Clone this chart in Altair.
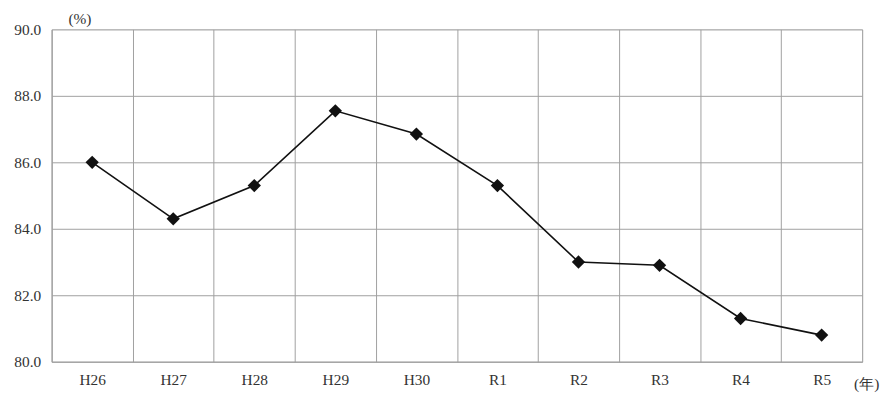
import altair as alt
import pandas as pd

years = ["H26", "H27", "H28", "H29", "H30", "R1", "R2", "R3", "R4", "R5"]
rates = [86.0, 84.3, 85.3, 87.55, 86.85, 85.3, 83.0, 82.9, 81.3, 80.8]

df = pd.DataFrame({"year": years, "rate": rates})

FONT = "Liberation Serif, DejaVu Serif, serif"
FS = 15.5

base = alt.Chart(df).encode(
    x=alt.X(
        "year:N",
        sort=years,
        scale=alt.Scale(paddingInner=0, paddingOuter=0),
        axis=alt.Axis(
            title="(年)",
            titleX=821,
            titleY=22,
            titleAngle=0,
            titleAlign="center",
            titleBaseline="middle",
            titleFontWeight="normal",
            titleFontSize=FS,
            titleFont=FONT,
            titleColor="#333333",
            labelAngle=0,
            labelFont=FONT,
            labelFontSize=FS,
            labelColor="#333333",
            labelPadding=11,
            ticks=False,
            tickBand="extent",
            grid=True,
            gridColor="#a0a0a0",
            gridWidth=1,
            domainColor="#a0a0a0",
        ),
    ),
    y=alt.Y(
        "rate:Q",
        scale=alt.Scale(domain=[80, 90], nice=False, zero=False),
        axis=alt.Axis(
            title="(%)",
            titleX=28,
            titleY=-11,
            titleAngle=0,
            titleAlign="center",
            titleBaseline="middle",
            titleFontWeight="normal",
            titleFontSize=FS,
            titleFont=FONT,
            titleColor="#333333",
            values=[80, 82, 84, 86, 88, 90],
            format=".1f",
            labelFont=FONT,
            labelFontSize=FS,
            labelColor="#333333",
            labelPadding=11,
            ticks=False,
            grid=True,
            gridColor="#a0a0a0",
            gridWidth=1,
            domainColor="#a0a0a0",
        ),
    ),
)

line = base.mark_line(color="#111111", strokeWidth=1.6)
points = base.mark_point(shape="diamond", filled=True, color="#111111", size=180, opacity=1)

chart = (
    (line + points)
    .properties(
        width=817,
        height=335,
        autosize=alt.AutoSizeParams(type="none"),
        padding={"left": 44, "top": 20, "right": 20, "bottom": 30},
    )
    .configure_view(stroke="#a0a0a0", strokeWidth=1)
    .configure(background="white")
)

chart.save("out.html", embed_options={"renderer": "svg", "actions": False})
